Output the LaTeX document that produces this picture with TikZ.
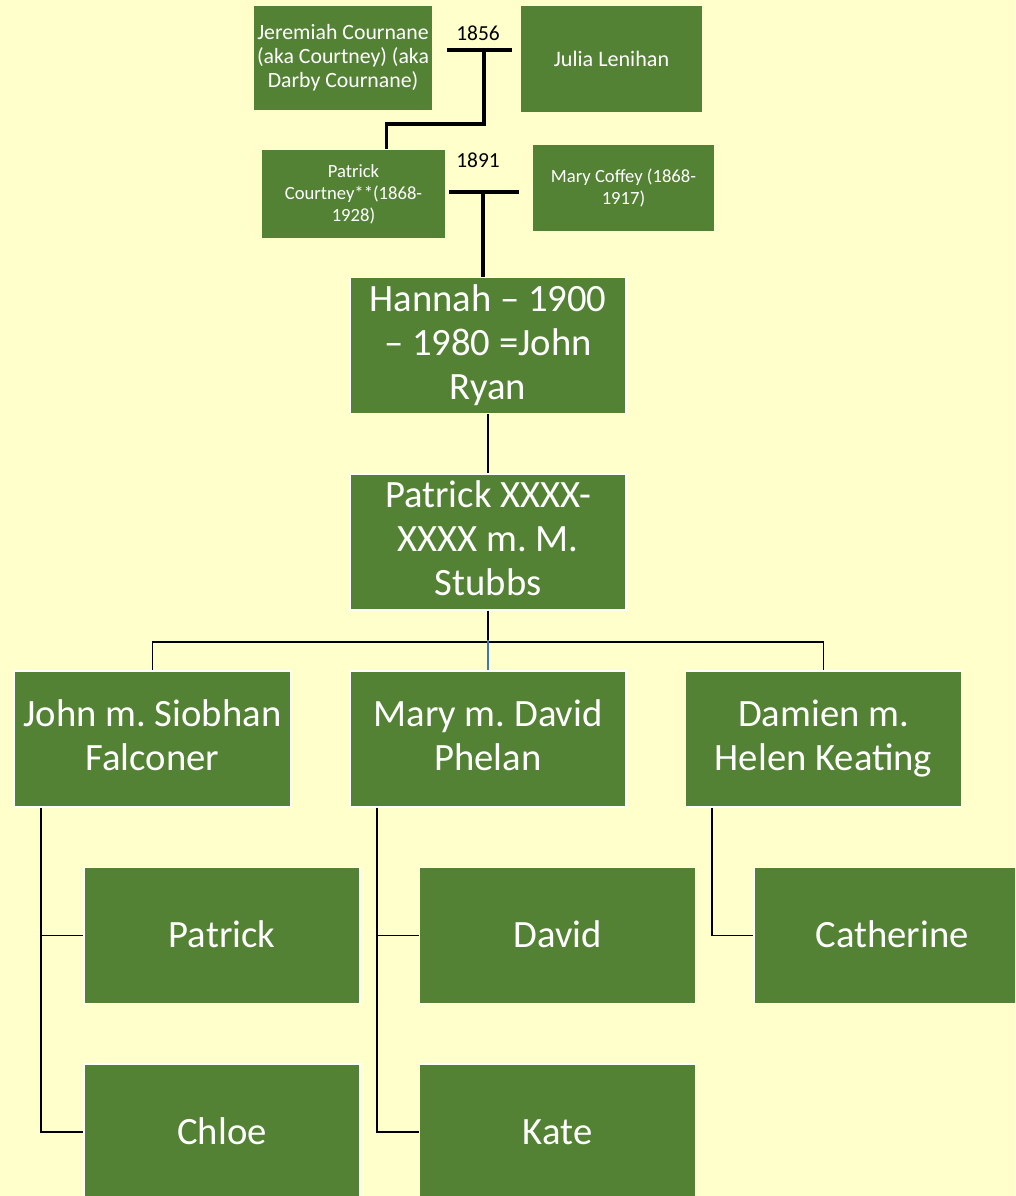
\documentclass[tikz,border=0pt]{standalone}
\usepackage{fontspec}
\setmainfont{Carlito}
\frenchspacing
\definecolor{famgreen}{HTML}{548235}
\definecolor{paper}{HTML}{FFFFCC}
\definecolor{bluelink}{HTML}{4472C4}
\newcommand\boxstrut{\vrule width0pt height18pt depth4pt}

\begin{document}
\begin{tikzpicture}[x=0.02cm,y=-0.02cm]
				\tikzstyle{every node}=[fill=famgreen,draw=white,line width=0.8pt,text=white,align=center,inner sep=1pt]
				\tikzstyle{big}=[minimum width=5.52cm,minimum height=2.72cm,font=\fontsize{22}{25}\selectfont,
				execute at begin node=\boxstrut,execute at end node=\boxstrut]
				\tikzstyle{small}=[draw=none,font=\fontsize{10.6}{12.6}\selectfont]
				\tikzstyle{year}=[fill=none,draw=none,text=black,font=\fontsize{12.2}{14}\selectfont]
				\tikzstyle{link}=[draw=black,line width=1.1pt]
				\tikzstyle{wed}=[draw=black,line width=1.9pt]
				\useasboundingbox (0,0) rectangle (1015,1196);
				\clip (0,0) rectangle (1015,1196);
				\fill[paper] (0,0) rectangle (1015,1196);
				% first marriage
				\node[small,minimum width=3.56cm,minimum height=2.08cm,font=\fontsize{12.4}{13.7}\selectfont] (jeremiah) at (343,58) {Jeremiah Cournane\\(aka Courtney) (aka\\Darby Cournane)};
				\node[small,minimum width=3.62cm,minimum height=2.12cm,font=\fontsize{12.6}{14}\selectfont] (julia) at (611.5,59) {Julia Lenihan};
				\node[year] (y1856) at (478,33) {1856};
				\coordinate (m1a) at (447,50);
				\coordinate (m1b) at (512,50);
				\coordinate (m1) at (484,50);
				% second marriage
				\node[small,minimum width=3.66cm,minimum height=1.76cm] (pcourtney) at (353.5,194) {Patrick\\Courtney**(1868-\\1928)};
				\node[small,minimum width=3.62cm,minimum height=1.72cm] (mcoffey) at (623.5,188) {Mary Coffey (1868-\\1917)};
				\node[year] (y1891) at (478,160) {1891};
				\coordinate (m2a) at (449,192);
				\coordinate (m2b) at (519,192);
				\coordinate (m2) at (483,192);
				% main line
				\node[big] (hannah) at (488,345.5) {Hannah -- 1900\\-- 1980 =John\\Ryan};
				\node[big] (pstubbs) at (488,542) {Patrick XXXX-\\XXXX m. M.\\Stubbs};
				\node[big] (john) at (152.5,739) {John m. Siobhan\\Falconer};
				\node[big] (mary) at (488,739) {Mary m. David\\Phelan};
				\node[big] (damien) at (823.5,739) {Damien m.\\Helen Keating};
				% grandchildren
				\node[big] (gpatrick) at (222,935.5) {Patrick};
				\node[big] (chloe) at (222,1132) {Chloe};
				\node[big] (david) at (557.5,935.5) {David};
				\node[big] (kate) at (557.5,1132) {Kate};
				\node[big] (catherine) at (892,935.5) {Catherine};
				% connectors
				\draw[wed] (m1a) -- (m1b);
				\draw[wed] (m1) -- ++(0,74) -| ([xshift=0.66cm]pcourtney.north);
				\draw[wed] (m2a) -- (m2b);
				\draw[wed] (m2) -- (m2 |- hannah.north);
				\draw[link] (hannah.south) -- (pstubbs.north);
				\draw[link] (pstubbs.south) -- ++(0,31) -| (john.north);
				\draw[link] (pstubbs.south) -- ++(0,31) -| (damien.north);
				\draw[bluelink,line width=0.8pt] ([yshift=0.6cm]mary.north) -- (mary.north);
				\draw[link] ([xshift=0.54cm]john.south west) |- (gpatrick.west);
				\draw[link] ([xshift=0.54cm]john.south west) |- (chloe.west);
				\draw[link] ([xshift=0.56cm]mary.south west) |- (david.west);
				\draw[link] ([xshift=0.56cm]mary.south west) |- (kate.west);
				\draw[link] ([xshift=0.54cm]damien.south west) |- (catherine.west);
\end{tikzpicture}
\end{document}
